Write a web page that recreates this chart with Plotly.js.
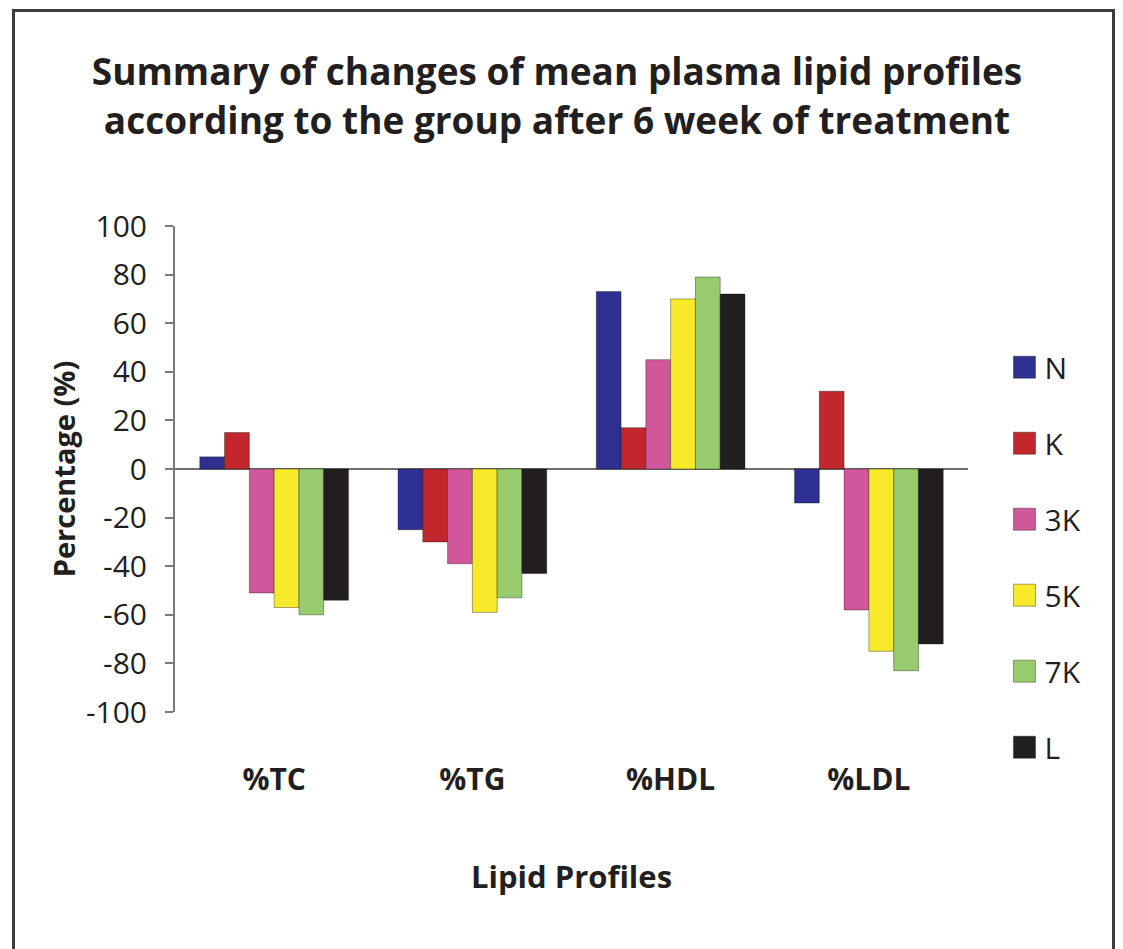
<!DOCTYPE html>
<html>
<head>
<meta charset="utf-8">
<script src="https://cdn.plot.ly/plotly-3.0.1.min.js"></script>
<style>
  html, body { margin: 0; padding: 0; background: #ffffff; }
  #wrap { position: relative; width: 1123px; height: 949px; overflow: hidden; }
  #frame { position: absolute; left: 12px; top: 9px; width: 1103px; height: 1000px;
           border: 3px solid #3d3d3d; box-sizing: border-box; pointer-events: none; z-index: 5; }
  #chart { position: absolute; left: 0; top: 0; width: 1123px; height: 949px; }
</style>
</head>
<body>
<div id="wrap">
  <div id="chart"></div>
  <div id="frame"></div>
</div>
<script>
const categories = ['%TC', '%TG', '%HDL', '%LDL'];
const groups = ['N', 'K', '3K', '5K', '7K', 'L'];
const valuesN  = [5, -25, 73, -14];
const valuesK  = [15, -30, 17, 32];
const values3K = [-51, -39, 45, -58];
const values5K = [-57, -59, 70, -75];
const values7K = [-60, -53, 79, -83];
const valuesL  = [-54, -43, 72, -72];
const seriesValues = [valuesN, valuesK, values3K, values5K, values7K, valuesL];
const colors = ['#2e3192', '#c1272d', '#d1579b', '#f7ea2a', '#98cb6e', '#231f20'];
const yTicks = [-100, -80, -60, -40, -20, 0, 20, 40, 60, 80, 100];

const FONT = '"Open Sans", "DejaVu Sans", sans-serif';

const traces = groups.map((g, i) => ({
  type: 'bar',
  name: g,
  x: categories,
  y: seriesValues[i],
  legendgroup: g,
  marker: { color: colors[i], line: { color: 'rgba(0,0,0,0.35)', width: 1 } },
  hoverinfo: 'x+y+name'
}));

const layout = {
  width: 1123,
  height: 949,
  paper_bgcolor: 'rgba(0,0,0,0)',
  plot_bgcolor: 'rgba(0,0,0,0)',
  margin: { l: 175, r: 155, t: 226, b: 237 },
  font: { family: FONT, color: '#231f20' },
  title: {
    text: 'Summary of changes of mean plasma lipid profiles<br>according to the group after 6 week of treatment',
    font: { family: FONT, size: 37, weight: 'bold', color: '#231f20' },
    x: 0.496, xanchor: 'center',
    y: 0.91, yanchor: 'top', yref: 'container'
  },
  barmode: 'group',
  bargap: 0.25,
  bargroupgap: 0,
  showlegend: true,
  legend: {
    x: 1.046, xanchor: 'left',
    y: 0.763, yanchor: 'top',
    traceorder: 'grouped',
    tracegroupgap: 34,
    font: { family: FONT, size: 30, color: '#231f20' },
    bgcolor: 'rgba(0,0,0,0)'
  },
  xaxis: {
    type: 'category',
    showline: false,
    showgrid: false,
    zeroline: false,
    ticks: '',
    ticklabelstandoff: 47,
    tickfont: { family: FONT, size: 30, weight: 'bold', color: '#231f20' },
    title: { text: 'Lipid Profiles', font: { family: FONT, size: 31, weight: 'bold', color: '#231f20' }, standoff: 68 }
  },
  yaxis: {
    range: [-100, 100],
    tickvals: yTicks,
    ticktext: yTicks.map(String),
    showline: true,
    linecolor: '#7a7a7a',
    linewidth: 2,
    ticks: 'outside',
    ticklen: 8,
    tickwidth: 2,
    tickcolor: '#7a7a7a',
    ticklabelstandoff: 12,
    showgrid: false,
    zeroline: true,
    zerolinecolor: '#6e6e6e',
    zerolinewidth: 2,
    tickfont: { family: FONT, size: 30, color: '#231f20' },
    title: { text: 'Percentage (%)', font: { family: FONT, size: 29, weight: 'bold', color: '#231f20' }, standoff: 2 }
  }
};

function enlargeLegendSwatches(gd) {
  gd.querySelectorAll('.legend .legendpoints path').forEach(p => {
    p.setAttribute('d', 'M11,11H-11V-11H11Z');
  });
}

Plotly.newPlot('chart', traces, layout, { displayModeBar: false, responsive: false }).then(gd => {
  enlargeLegendSwatches(gd);
  gd.on('plotly_afterplot', () => enlargeLegendSwatches(gd));
});
</script>
</body>
</html>
